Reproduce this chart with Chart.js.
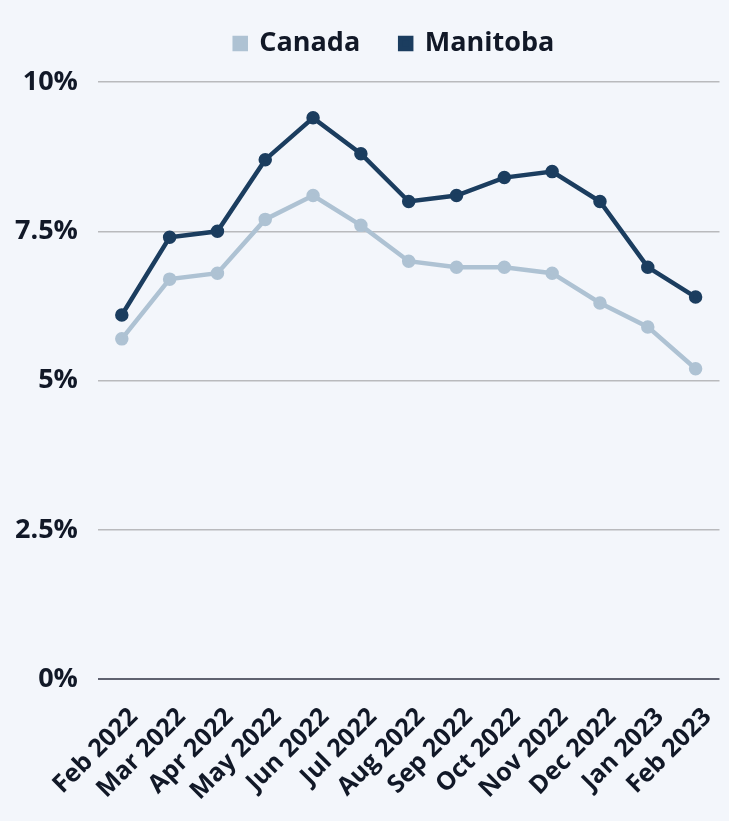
<!DOCTYPE html>
<html>
<head>
<meta charset="utf-8">
<script src="https://cdn.jsdelivr.net/npm/chart.js@4"></script>
<style>
  html, body { margin: 0; padding: 0; background: #f3f6fb; }
  #wrap { width: 729px; height: 821px; }
</style>
</head>
<body>
<div id="wrap"><canvas id="myChart"></canvas></div>
<script>
const months = ['Feb 2022', 'Mar 2022', 'Apr 2022', 'May 2022', 'Jun 2022', 'Jul 2022', 'Aug 2022',
  'Sep 2022', 'Oct 2022', 'Nov 2022', 'Dec 2022', 'Jan 2023', 'Feb 2023']
const canada = [5.7, 6.7, 6.8, 7.7, 8.1, 7.6, 7.0, 6.9, 6.9, 6.8, 6.3, 5.9, 5.2]
const manitoba = [6.1, 7.4, 7.5, 8.7, 9.4, 8.8, 8.0, 8.1, 8.4, 8.5, 8.0, 6.9, 6.4]
const yTicks = [0, 2.5, 5, 7.5, 10]

const font = "'Open Sans', 'Noto Sans', sans-serif"
const ink = '#111827'

const makeSet = (label, data, color) => ({
  label: label,
  data: data,
  borderColor: color,
  backgroundColor: color,
  pointBackgroundColor: color,
  pointBorderColor: color,
  borderWidth: 4.5,
  pointRadius: 4.5,
  pointHoverRadius: 5,
  tension: 0
})

// extra room under the legend, and legend nudged right
const legendTweak = {
  id: 'legendTweak',
  beforeInit(chart) {
    const fit = chart.legend.fit
    chart.legend.fit = function () {
      fit.bind(chart.legend)()
      this.height += 15
    }
  },
  afterLayout(chart) {
    chart.legend.left += 34
    chart.legend.right += 34
  }
}

const ctx = document.getElementById('myChart').getContext('2d')
new Chart(ctx, {
  type: 'line',
  data: {
    labels: months,
    datasets: [
      makeSet('Canada', canada, '#aec2d3'),
      makeSet('Manitoba', manitoba, '#1b3d5f')
    ]
  },
  plugins: [legendTweak],
  options: {
    responsive: true,
    maintainAspectRatio: false,
    animation: false,
    layout: { padding: { left: -5, right: 3, top: -10, bottom: 0 } },
    plugins: {
      legend: {
        display: true,
        labels: {
          font: { family: font, size: 27, weight: 'bold' },
          color: ink,
          boxWidth: 11,
          boxHeight: 11,
          padding: 40
        }
      },
      tooltip: { enabled: false }
    },
    scales: {
      x: {
        offset: true,
        grid: { display: false },
        border: { display: false },
        afterFit: scale => { scale.paddingLeft = 0; scale.paddingRight = 0 },
        ticks: {
          font: { family: font, size: 25, weight: 'bold' },
          color: ink,
          maxRotation: 45,
          minRotation: 45,
          padding: 15,
          labelOffset: 12,
          autoSkip: false
        }
      },
      y: {
        min: 0,
        max: 10,
        afterBuildTicks: axis => { axis.ticks = yTicks.map(v => ({ value: v })) },
        border: { display: false },
        grid: {
          drawTicks: false,
          color: c => c.tick && c.tick.value === 0 ? '#5f6270' : '#b9babd',
          lineWidth: c => c.tick && c.tick.value === 0 ? 2 : 1.5
        },
        ticks: {
          font: { family: font, size: 27, weight: 'bold' },
          color: ink,
          padding: 20,
          callback: v => v + '%'
        }
      }
    }
  }
})
</script>
</body>
</html>
